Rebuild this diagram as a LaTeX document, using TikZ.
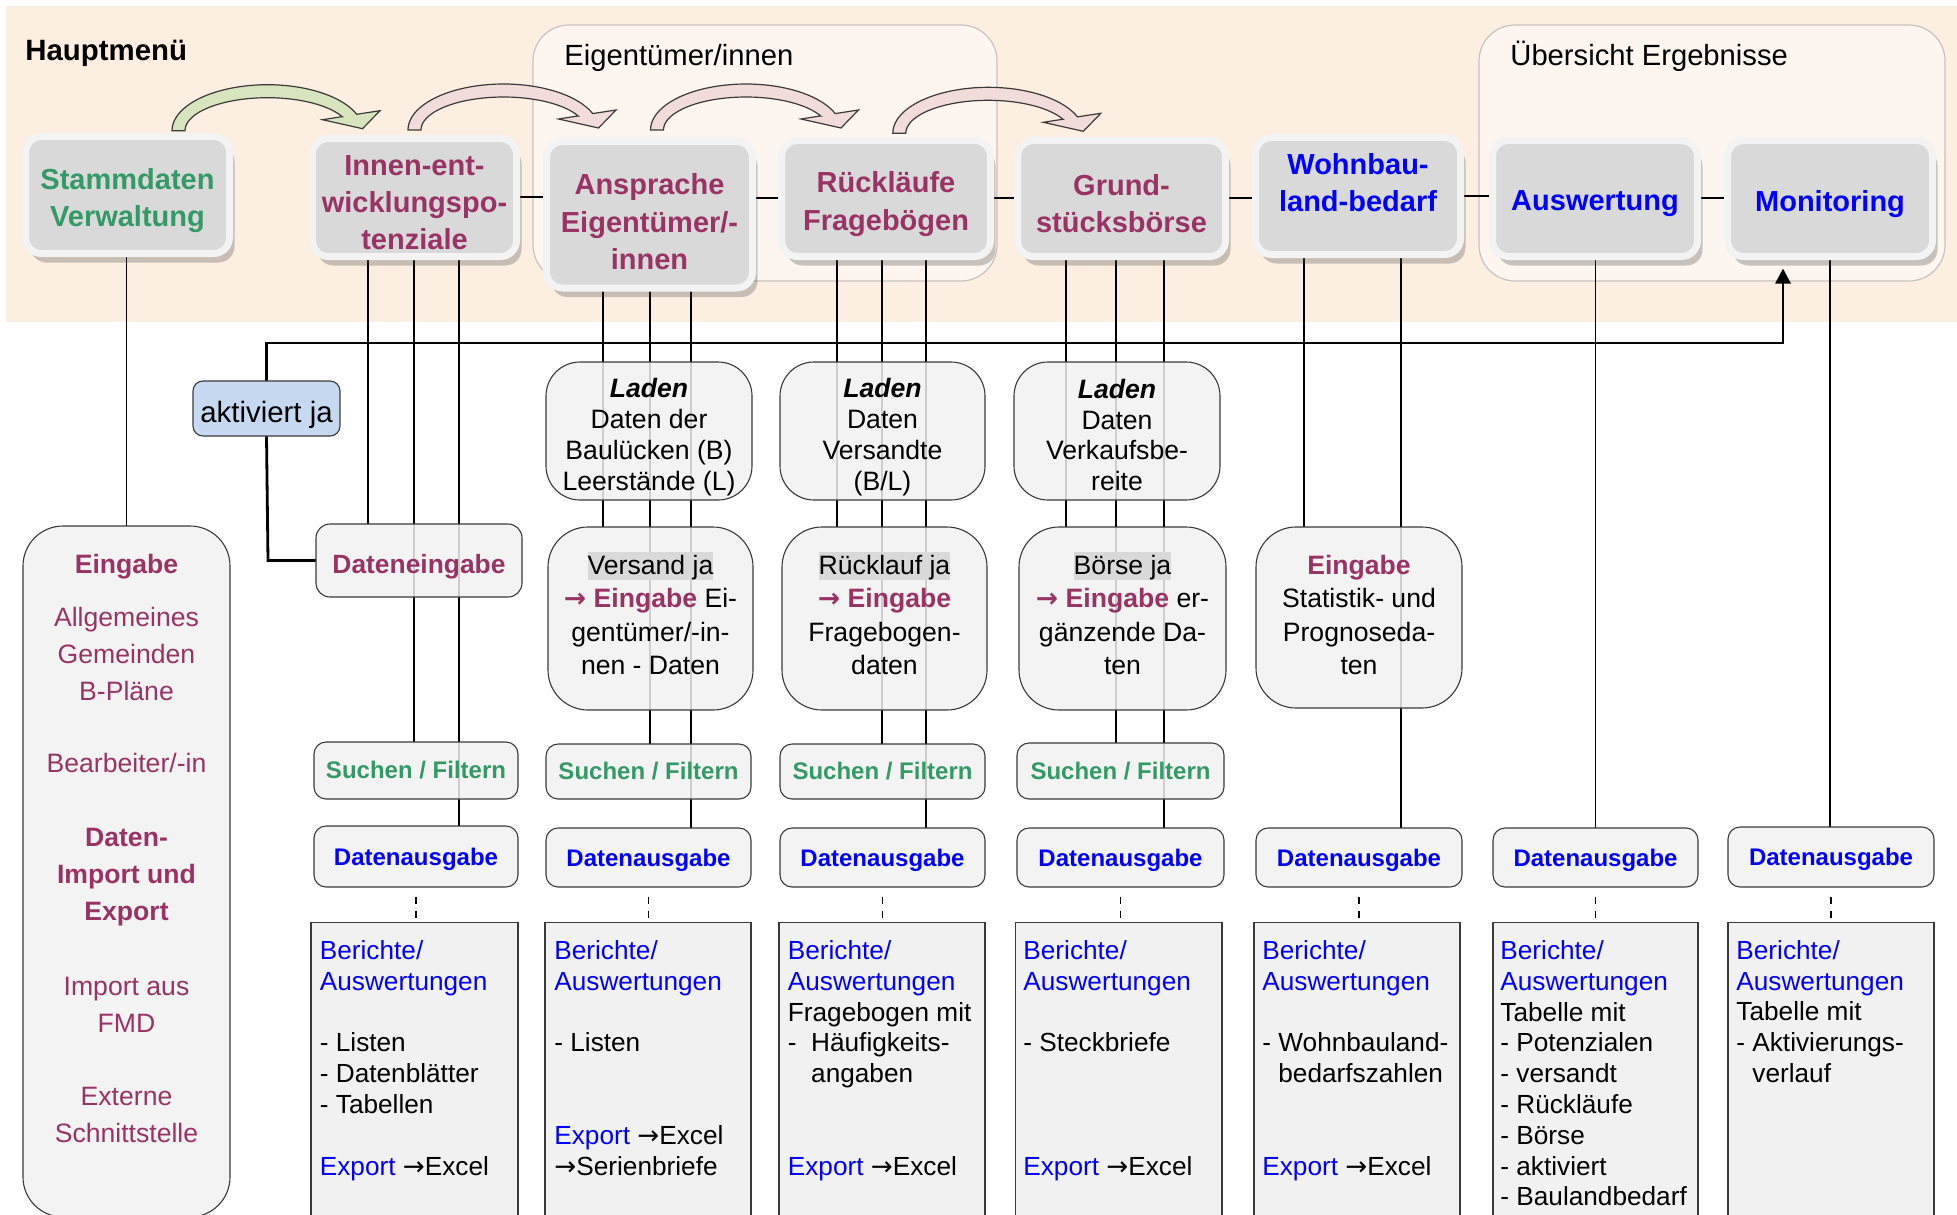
\documentclass[tikz,border=0pt]{standalone}
\usepackage{fontspec}
\setmainfont{Liberation Sans}
\newfontfamily\arrowfont{DejaVu Sans}
\usetikzlibrary{shadows,arrows.meta}
\definecolor{cgreen}{HTML}{339966}
\definecolor{cpurple}{HTML}{993366}
\definecolor{cblue}{HTML}{0000FF}
\definecolor{bandc}{HTML}{FDEEE2}
\definecolor{grpdraw}{HTML}{C8C2BE}
\definecolor{boxfill}{HTML}{F1F1F1}
\definecolor{boxdraw}{HTML}{3A3A3A}
\definecolor{maininner}{HTML}{D9D9D9}
\definecolor{mainrim}{HTML}{F3F3F3}
\definecolor{arrgreen}{HTML}{D7E4BD}
\definecolor{arrpink}{HTML}{F2DCDB}
\definecolor{arrdraw}{HTML}{3A3A3A}
\definecolor{aktfill}{HTML}{C6D9F1}
\definecolor{hlgray}{HTML}{D9D9D9}
\pgfdeclarelayer{bg}
\pgfdeclarelayer{back}
\pgfsetlayers{bg,back,main}

% box node without text
\newcommand{\bnode}[6]{\node[#1, minimum width={(#5-#3)*0.5pt}, minimum height={(#6-#4)*0.5pt}] (#2) at ({(#3+#5)/2},{(#4+#6)/2}) {};}
% box node plus its text node (#7 text style, #8 vertical shift, #9 text)
\newcommand{\tnode}[9]{\bnode{#1}{#2}{#3}{#4}{#5}{#6}\node[#7] (#2t) at ([yshift=#8]#2.center) {#9};}
\newcommand{\curvarrow}[3]{%
  \begin{scope}[shift={(#1,#2)}]
    \filldraw[fill=#3, draw=arrdraw, line width=0.6pt, line join=miter]
      (-6.5,0) -- plot[domain=180:339.1, samples=40] ({89+95.5*cos(\x)},{46*sin(\x)})
      -- (201.5,-20) -- (184,-2) -- (144,-11) -- (163.55,-14.06)
      -- plot[domain=334.8:180, samples=40] ({89+82.5*cos(\x)},{33*sin(\x)}) -- cycle;
  \end{scope}}
\newcommand{\hlbox}[1]{{\fboxsep=0pt\colorbox{hlgray}{\vphantom{Ög}#1}}}
\newcommand{\rarr}{{\arrowfont\char"2192}}

\tikzset{
  mainbox/.style={rounded corners=8pt, fill=maininner, draw=mainrim, line width=3.5pt,
    drop shadow={shadow xshift=2.5pt, shadow yshift=-4.5pt, opacity=0.3, fill=black!70},
    inner sep=0pt, outer sep=0pt},
  maintext/.style={inner sep=0pt, align=center, font=\bfseries\fontsize{14.5}{18.7}\selectfont},
  rbox/.style={rounded corners=#1, fill=boxfill, fill opacity=0.85, draw=boxdraw,
    line width=0.55pt, inner sep=0pt, outer sep=0pt},
  rbox/.default=6pt,
  boxtext/.style={inner sep=0pt, align=center},
  ladentext/.style={boxtext, font=\fontsize{13.3}{15.4}\selectfont},
  eintext/.style={boxtext, font=\fontsize{13.3}{16.8}\selectfont},
  smalltext/.style={boxtext, font=\bfseries\fontsize{12}{14}\selectfont},
  reportbox/.style={fill=boxfill, draw=boxdraw, line width=0.55pt, inner sep=0pt, outer sep=0pt},
  btext/.style={anchor=north west, align=left, inner sep=0pt, font=\fontsize{13.1}{15.4}\selectfont},
  vline/.style={line width=0.75pt, black},
  hconn/.style={line width=1pt, black},
  busline/.style={line width=1.4pt, black},
  dline/.style={line width=0.75pt, dash pattern=on 3.65pt off 3.35pt, shorten <=4.85pt, shorten >=2.2pt},
  grp/.style={rounded corners=18pt, fill=white, fill opacity=0.45, draw=grpdraw, line width=0.6pt},
}

\begin{document}
\begin{tikzpicture}[x=0.5pt,y=-0.5pt]
\useasboundingbox (0,0) rectangle (1957,1214);

\begin{pgfonlayer}{bg}
  \fill[bandc] (6,6) rectangle (1957,322);
  \filldraw[grp] (533,25) rectangle (997,281);
  \filldraw[grp] (1479,25) rectangle (1945,281);
\end{pgfonlayer}

% titles
\node[anchor=base west, inner sep=0pt, font=\bfseries\fontsize{14.7}{17}\selectfont] (hm) at (25,60.5) {Hauptmenü};
\node[anchor=base west, inner sep=0pt, font=\fontsize{14.6}{17}\selectfont] (g1lab) at (564,65.5) {Eigentümer/innen};
\node[anchor=base west, inner sep=0pt, font=\fontsize{14.6}{17}\selectfont] (g2lab) at (1510,65.5) {Übersicht Ergebnisse};

% curved arrows
\curvarrow{178.5}{130.7}{arrgreen}
\curvarrow{414.5}{130}{arrpink}
\curvarrow{657}{130}{arrpink}
\curvarrow{899.3}{133.3}{arrpink}

% main menu boxes
\tnode{mainbox}{stamm}{25.5}{136.5}{229.5}{253.5}{maintext,text=cgreen}{-2.8pt}{Stammdaten\\Verwaltung}
\tnode{mainbox}{innen}{312.5}{138.5}{516.5}{256.5}{maintext,text=cpurple}{-2.6pt}{Innen-ent-\\wicklungspo-\\tenziale}
\tnode{mainbox}{anspr}{546.5}{141.5}{752.5}{288}{maintext,text=cpurple}{-3.6pt}{Ansprache\\Eigentümer/-\\innen}
\tnode{mainbox}{rueck}{781.5}{140.5}{990.5}{256.5}{maintext,text=cpurple}{-2.8pt}{Rückläufe\\Fragebögen}
\tnode{mainbox}{grund}{1017.5}{140.5}{1225.5}{256.5}{maintext,text=cpurple}{-2.6pt}{Grund-\\stücksbörse}
\tnode{mainbox}{wohn}{1255.5}{137.5}{1460.5}{254.5}{maintext,text=cblue}{-2.6pt}{Wohnbau-\\land-bedarf\\\mbox{}}
\tnode{mainbox}{ausw}{1492.5}{140.5}{1697.5}{256.5}{maintext,text=cblue}{-2.6pt}{Auswertung}
\tnode{mainbox}{monit}{1727.5}{140.5}{1932.5}{256.5}{maintext,text=cblue}{-2.6pt}{Monitoring}

% left input box
\bnode{rbox=20pt}{ein}{23}{526}{230}{1217}
\node[anchor=north, align=center, inner sep=0pt, text=cpurple, font=\fontsize{13.3}{18.5}\selectfont] (eint) at (126.5,554)
  {\textbf{Eingabe}\\[7.7pt]Allgemeines\\Gemeinden\\B-Pläne\\[17.8pt]Bearbeiter/-in\\[18.6pt]\textbf{Daten-}\\\textbf{Import und}\\\textbf{Export}\\[18.6pt]Import aus\\FMD\\[18.2pt]Externe\\Schnittstelle};

% aktiviert and Dateneingabe
\tnode{rbox=5pt, fill=aktfill, fill opacity=1}{akt}{193}{381}{340}{436}{boxtext, font=\fontsize{14.7}{17}\selectfont}{-3pt}{aktiviert ja}
\tnode{rbox=7pt}{dein}{316}{524}{522}{597}{boxtext, font=\bfseries\fontsize{13.2}{16}\selectfont, text=cpurple}{-3pt}{Dateneingabe}

% Laden boxes
\tnode{rbox=17pt}{lad1}{546}{362}{752}{500}{ladentext}{-3pt}{\textbf{\textit{Laden}}\\Daten der\\Baulücken (B)\\Leerstände (L)}
\tnode{rbox=17pt}{lad2}{780}{362}{985}{500}{ladentext}{-3pt}{\textbf{\textit{Laden}}\\Daten\\Versandte\\(B/L)}
\tnode{rbox=17pt}{lad3}{1014}{362}{1220}{500}{ladentext}{-2pt}{\textbf{\textit{Laden}}\\Daten\\Verkaufsbe-\\reite}

% Eingabe boxes
\tnode{rbox=20pt}{ver}{548}{527}{753}{710}{eintext}{2.5pt}{\hlbox{Versand ja}\\\textcolor{cpurple}{\textbf{\rarr\ Eingabe}} Ei-\\gentümer/-in-\\nen - Daten}
\tnode{rbox=20pt}{rl}{782}{527}{987}{710}{eintext}{2.5pt}{\hlbox{Rücklauf ja}\\\textcolor{cpurple}{\textbf{\rarr\ Eingabe}}\\Fragebogen-\\daten}
\tnode{rbox=20pt}{bo}{1019}{527}{1226}{710}{eintext}{2.5pt}{\hlbox{Börse ja}\\\textcolor{cpurple}{\textbf{\rarr\ Eingabe}} er-\\gänzende Da-\\ten}
\tnode{rbox=20pt}{ew}{1256}{527}{1462}{708}{eintext}{1.3pt}{\textcolor{cpurple}{\textbf{Eingabe}}\\Statistik- und\\Prognoseda-\\ten}

% Suchen / Filtern
\tnode{rbox}{such1}{314}{742}{518}{799}{smalltext, text=cgreen}{0pt}{Suchen / Filtern}
\tnode{rbox}{such2}{546}{744}{751}{799}{smalltext, text=cgreen}{0pt}{Suchen / Filtern}
\tnode{rbox}{such3}{780}{744}{985}{799}{smalltext, text=cgreen}{0pt}{Suchen / Filtern}
\tnode{rbox}{such4}{1017}{743}{1224}{799}{smalltext, text=cgreen}{0pt}{Suchen / Filtern}

% Datenausgabe
\tnode{rbox}{da1}{314}{826}{518}{887}{smalltext, text=cblue}{-1.2pt}{Datenausgabe}
\tnode{rbox}{da2}{546}{828}{751}{887}{smalltext, text=cblue}{-1.2pt}{Datenausgabe}
\tnode{rbox}{da3}{780}{828}{985}{887}{smalltext, text=cblue}{-1.2pt}{Datenausgabe}
\tnode{rbox}{da4}{1017}{828}{1224}{887}{smalltext, text=cblue}{-1.2pt}{Datenausgabe}
\tnode{rbox}{da5}{1256}{828}{1462}{887}{smalltext, text=cblue}{-1.2pt}{Datenausgabe}
\tnode{rbox}{da6}{1493}{828}{1698}{887}{smalltext, text=cblue}{-1.2pt}{Datenausgabe}
\tnode{rbox}{da7}{1728}{827}{1934}{887}{smalltext, text=cblue}{-1.2pt}{Datenausgabe}

% Berichte boxes
\bnode{reportbox}{be1}{311}{922.7}{518}{1240}
\bnode{reportbox}{be2}{545}{922.7}{751}{1240}
\bnode{reportbox}{be3}{779}{922.7}{985}{1240}
\bnode{reportbox}{be4}{1015.5}{922.7}{1222}{1240}
\bnode{reportbox}{be5}{1254}{922.7}{1460}{1240}
\bnode{reportbox}{be6}{1493}{922.7}{1698}{1240}
\bnode{reportbox}{be7}{1728}{922.7}{1934}{1240}

\node[btext] (bt1) at (319.5,940) {\textcolor{cblue}{Berichte/}\\\textcolor{cblue}{Auswertungen}\\\mbox{}\\- Listen\\- Datenblätter\\- Tabellen\\\mbox{}\\\textcolor{cblue}{Export} \rarr Excel};
\node[btext] (bt2) at (554,940) {\textcolor{cblue}{Berichte/}\\\textcolor{cblue}{Auswertungen}\\\mbox{}\\- Listen\\\mbox{}\\\mbox{}\\\textcolor{cblue}{Export} \rarr Excel\\\rarr Serienbriefe};
\node[btext] (bt3) at (787.5,940) {\textcolor{cblue}{Berichte/}\\\textcolor{cblue}{Auswertungen}\\Fragebogen mit\\-\ \ Häufigkeits-\\\hphantom{-\ \ }angaben\\\mbox{}\\\mbox{}\\\textcolor{cblue}{Export} \rarr Excel};
\node[btext] (bt4) at (1023,940) {\textcolor{cblue}{Berichte/}\\\textcolor{cblue}{Auswertungen}\\\mbox{}\\- Steckbriefe\\\mbox{}\\\mbox{}\\\mbox{}\\\textcolor{cblue}{Export} \rarr Excel};
\node[btext] (bt5) at (1262,940) {\textcolor{cblue}{Berichte/}\\\textcolor{cblue}{Auswertungen}\\\mbox{}\\- Wohnbauland-\\\hphantom{-\ }bedarfszahlen\\\mbox{}\\\mbox{}\\\textcolor{cblue}{Export} \rarr Excel};
\node[btext] (bt6) at (1500,940) {\textcolor{cblue}{Berichte/}\\\textcolor{cblue}{Auswertungen}\\Tabelle mit\\- Potenzialen\\- versandt\\- Rückläufe\\- Börse\\- aktiviert\\- Baulandbedarf};
\node[btext] (bt7) at (1736,940) {\textcolor{cblue}{Berichte/}\\\textcolor{cblue}{Auswertungen}\\Tabelle mit\\- Aktivierungs-\\\hphantom{-\ }verlauf};

% x positions of vertical connectors
\coordinate (xs) at (126.5,0);
\coordinate (xi1) at (368,0);  \coordinate (xi2) at (414,0);  \coordinate (xi3) at (459,0);
\coordinate (xa1) at (603,0);  \coordinate (xa2) at (650,0);  \coordinate (xa3) at (691,0);
\coordinate (xr1) at (837,0);  \coordinate (xr2) at (882,0);  \coordinate (xr3) at (926,0);
\coordinate (xg1) at (1066,0); \coordinate (xg2) at (1116,0); \coordinate (xg3) at (1164,0);
\coordinate (xw1) at (1304,0); \coordinate (xw2) at (1401,0);
\coordinate (xu) at (1595.5,0); \coordinate (xm) at (1830,0);
\coordinate (xb) at (268,0);
\coordinate (busr) at (1783,343);

\begin{pgfonlayer}{back}
  % main menu chain
  \draw[hconn] (innen.east) -- (innen.east -| anspr.west);
  \draw[hconn] (rueck.west) -- (rueck.west -| anspr.east);
  \draw[hconn] (rueck.east) -- (rueck.east -| grund.west);
  \draw[hconn] (grund.east) -- (grund.east -| wohn.west);
  \draw[hconn] (wohn.east) -- (wohn.east -| ausw.west);
  \draw[hconn] (ausw.east) -- (ausw.east -| monit.west);
  % verticals
  \draw[vline] (stamm.south -| xs) -- (ein.north -| xs);
  \draw[vline] (innen.south -| xi1) -- (dein.north -| xi1);
  \draw[vline] (innen.south -| xi2) -- (such1.north -| xi2);
  \draw[vline] (innen.south -| xi3) -- (da1.north -| xi3);
  \draw[vline] (anspr.south -| xa1) -- (ver.north -| xa1);
  \draw[vline] (anspr.south -| xa2) -- (such2.north -| xa2);
  \draw[vline] (anspr.south -| xa3) -- (da2.north -| xa3);
  \draw[vline] (rueck.south -| xr1) -- (rl.north -| xr1);
  \draw[vline] (rueck.south -| xr2) -- (such3.north -| xr2);
  \draw[vline] (rueck.south -| xr3) -- (da3.north -| xr3);
  \draw[vline] (grund.south -| xg1) -- (bo.north -| xg1);
  \draw[vline] (grund.south -| xg2) -- (such4.north -| xg2);
  \draw[vline] (grund.south -| xg3) -- (da4.north -| xg3);
  \draw[vline] (wohn.south -| xw1) -- (ew.north -| xw1);
  \draw[vline] (wohn.south -| xw2) -- (da5.north -| xw2);
  \draw[vline] (ausw.south -| xu) -- (da6.north -| xu);
  \draw[vline] (monit.south -| xm) -- (da7.north -| xm);
  % dashed to reports
  \draw[dline] (da1.south) -- (da1.south |- be1.north);
  \draw[dline] (da2.south) -- (da2.south |- be2.north);
  \draw[dline] (da3.south) -- (da3.south |- be3.north);
  \draw[dline] (da4.south) -- (da4.south |- be4.north);
  \draw[dline] (da5.south) -- (da5.south |- be5.north);
  \draw[dline] (da6.south) -- (da6.south |- be6.north);
  \draw[dline] (da7.south) -- (da7.south |- be7.north);
  % activation bus
  \draw[busline] (dein.west) -- (dein.west -| xb) -- (akt.south);
  \draw[busline, -{Triangle[width=7.5pt,length=7.5pt]}, shorten >=6pt] (akt.north) |- (busr) -- (busr |- monit.south);
\end{pgfonlayer}
\end{tikzpicture}
\end{document}
